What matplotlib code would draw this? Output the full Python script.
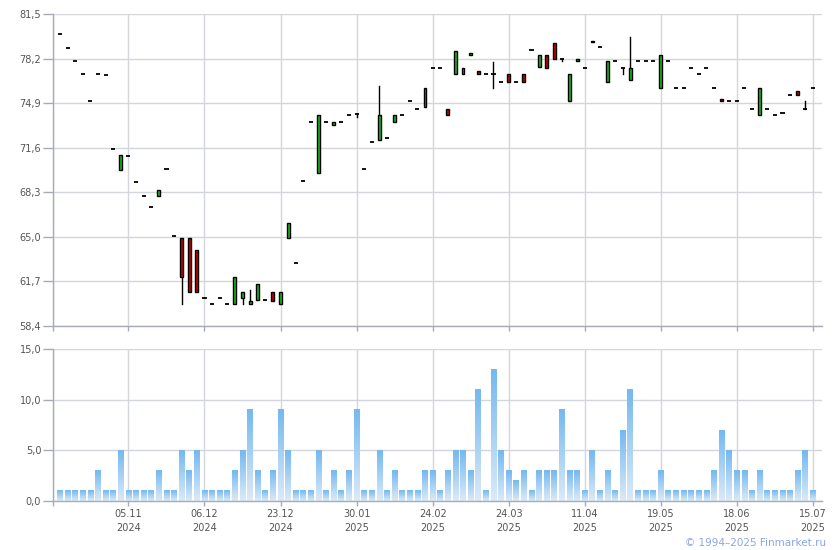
import matplotlib
matplotlib.use("Agg")
import matplotlib.pyplot as plt
import numpy as np
from matplotlib.patches import Rectangle
from matplotlib.ticker import FuncFormatter
from matplotlib.colors import LinearSegmentedColormap

# ---- data ----
opens = [80.0, 79.0, 78.0, 77.05, 75.05, 77.05, 76.95, 71.5, 69.95, 70.95,
         69.05, 68.0, 67.2, 68.0, 70.0, 65.05, 64.95, 64.95, 64.05, 60.5,
         60.0, 60.5, 60.0, 60.0, 60.5, 60.0, 60.3, 60.3, 60.95, 60.0,
         64.95, 63.1, 69.1, 73.5, 69.75, 73.5, 73.25, 73.5, 74.0, 74.1,
         70.0, 72.0, 72.2, 72.3, 73.5, 74.0, 75.05, 74.5, 74.6, 77.5,
         77.5, 74.5, 77.05, 77.05, 78.5, 77.25, 77.05, 77.05, 76.5, 77.05,
         76.5, 77.05, 78.8, 77.55, 78.5, 79.35, 78.15, 75.05, 78.0, 77.5,
         79.4, 79.05, 76.5, 78.0, 77.5, 76.6, 78.0, 78.0, 78.0, 76.0,
         78.0, 76.05, 76.0, 77.5, 77.05, 77.5, 76.0, 75.2, 75.05, 75.05,
         76.0, 74.5, 74.0, 74.5, 74.0, 74.2, 75.5, 75.8, 74.5, 76.0]
closes = [80.0, 79.0, 78.0, 77.05, 75.05, 77.05, 76.95, 71.5, 71.05, 70.95,
          69.05, 68.0, 67.2, 68.5, 70.0, 65.05, 62.0, 60.95, 60.95, 60.5,
          60.0, 60.5, 60.0, 62.0, 60.95, 60.25, 61.5, 60.3, 60.25, 60.95,
          66.0, 63.1, 69.1, 73.5, 74.0, 73.5, 73.5, 73.5, 74.0, 74.1,
          70.0, 72.0, 74.0, 72.3, 74.0, 74.0, 75.05, 74.5, 76.0, 77.5,
          77.5, 74.0, 78.75, 77.5, 78.6, 77.05, 77.05, 77.05, 76.5, 76.5,
          76.5, 76.5, 78.8, 78.45, 77.5, 78.2, 78.15, 77.05, 78.2, 77.5,
          79.5, 79.05, 78.0, 78.0, 77.5, 77.5, 78.0, 78.0, 78.0, 78.5,
          78.0, 76.05, 76.0, 77.5, 77.05, 77.5, 76.0, 75.05, 75.05, 75.05,
          76.0, 74.5, 76.0, 74.5, 74.0, 74.2, 75.5, 75.5, 74.5, 76.0]
highs = [80.0, 79.0, 78.0, 77.05, 75.05, 77.05, 76.95, 71.5, 71.05, 70.95,
         69.05, 68.0, 67.2, 68.5, 70.0, 65.05, 64.95, 64.95, 64.05, 60.5,
         60.0, 60.5, 60.0, 62.0, 60.95, 61.05, 61.5, 60.3, 60.95, 60.95,
         66.0, 63.1, 69.1, 73.5, 74.0, 73.5, 73.5, 73.5, 74.0, 74.1,
         70.0, 72.0, 76.2, 72.3, 74.0, 74.0, 75.05, 74.5, 76.0, 77.5,
         77.5, 74.5, 78.75, 77.5, 78.6, 77.25, 77.05, 77.95, 76.5, 77.05,
         76.5, 77.05, 78.8, 78.45, 78.5, 79.35, 78.15, 77.05, 78.2, 77.5,
         79.5, 79.05, 78.0, 78.0, 77.5, 79.8, 78.0, 78.0, 78.0, 78.5,
         78.0, 76.05, 76.0, 77.5, 77.05, 77.5, 76.0, 75.2, 75.05, 75.05,
         76.0, 74.5, 76.0, 74.5, 74.0, 74.2, 75.5, 75.8, 75.05, 76.0]
lows = [80.0, 79.0, 78.0, 77.05, 75.05, 77.05, 76.95, 71.5, 69.95, 70.95,
        69.05, 68.0, 67.2, 68.0, 70.0, 65.05, 60.05, 60.95, 60.95, 60.5,
        60.0, 60.5, 60.0, 60.0, 60.05, 60.0, 60.3, 60.3, 60.25, 60.0,
        64.95, 63.1, 69.1, 73.5, 69.75, 73.5, 73.25, 73.5, 74.0, 73.9,
        70.0, 72.0, 72.2, 72.3, 73.5, 74.0, 75.05, 74.5, 74.6, 77.5,
        77.5, 74.0, 77.05, 77.05, 78.5, 77.05, 77.05, 76.05, 76.5, 76.5,
        76.5, 76.5, 78.8, 77.55, 77.5, 78.2, 78.05, 75.05, 78.0, 77.5,
        79.4, 79.05, 76.5, 78.0, 77.05, 76.6, 78.0, 78.0, 78.0, 76.0,
        78.0, 76.05, 76.0, 77.5, 77.05, 77.5, 76.0, 75.05, 75.05, 75.05,
        76.0, 74.5, 74.0, 74.5, 74.0, 74.2, 75.5, 75.5, 74.5, 76.0]
volumes = [1, 1, 1, 1, 1, 3, 1, 1, 5, 1,
           1, 1, 1, 3, 1, 1, 5, 3, 5, 1,
           1, 1, 1, 3, 5, 9, 3, 1, 3, 9,
           5, 1, 1, 1, 5, 1, 3, 1, 3, 9,
           1, 1, 5, 1, 3, 1, 1, 1, 3, 3,
           1, 3, 5, 5, 3, 11, 1, 13, 5, 3,
           2, 3, 1, 3, 3, 3, 9, 3, 3, 1,
           5, 1, 3, 1, 7, 11, 1, 1, 1, 3,
           1, 1, 1, 1, 1, 1, 3, 7, 5, 3,
           3, 1, 3, 1, 1, 1, 1, 3, 5, 1]
date_labels = ["05.11\n2024", "06.12\n2024", "23.12\n2024", "30.01\n2025",
               "24.02\n2025", "24.03\n2025", "11.04\n2025", "19.05\n2025",
               "18.06\n2025", "15.07\n2025"]
date_pos = [9, 19, 29, 39, 49, 59, 69, 79, 89, 99]
price_ticks = [58.4, 61.7, 65.0, 68.3, 71.6, 74.9, 78.2, 81.5]
vol_ticks = [0, 5, 10, 15]

# ---- style ----
GRID = "#d3d6da"
SPINE = "#a8aab8"
LABEL = "#555555"
GREEN = "#1cbb1c"
RED = "#cc0000"
plt.rcParams['font.family'] = ['DejaVu Sans']

fig = plt.figure(figsize=(8.4, 5.5), dpi=100)
W, H = 840, 550
x0, x1 = 53, 822
ax = fig.add_axes([x0 / W, 1 - 326 / H, (x1 - x0) / W, 312 / H])
axv = fig.add_axes([x0 / W, 1 - 501 / H, (x1 - x0) / W, 152 / H])

xmin, xmax = -0.92, 100.2
fmt = FuncFormatter(lambda v, p: f"{v:.1f}".replace('.', ','))

for a in (ax, axv):
    a.set_xlim(xmin, xmax)
    for s in ("top", "right"):
        a.spines[s].set_visible(False)
    for s in ("left", "bottom"):
        a.spines[s].set_color(SPINE)
        a.spines[s].set_linewidth(1)
    a.set_xticks([xmin] + date_pos)
    a.xaxis.grid(True, color=GRID, lw=1)
    a.yaxis.grid(True, color=GRID, lw=1)
    a.set_axisbelow(True)
    a.tick_params(axis='y', length=7, width=1, color=SPINE, labelsize=7,
                  labelcolor=LABEL, pad=1.5)
    a.tick_params(axis='x', length=3.5, width=1, color=SPINE, labelsize=7,
                  labelcolor=LABEL, pad=2.5)
    a.yaxis.set_major_formatter(fmt)

ax.set_ylim(58.4, 81.5)
ax.set_yticks(price_ticks)
ax.set_xticklabels([""] * (len(date_pos) + 1))

axv.set_ylim(0, 15)
axv.set_yticks(vol_ticks)
axv.set_xticklabels([""] + date_labels, linespacing=1.45)

# ---- candles ----
bw = 0.38
dw = 0.27
for i, (o, h, l, c) in enumerate(zip(opens, highs, lows, closes)):
    top, bot = max(o, c), min(o, c)
    if h > top:
        ax.plot([i, i], [top, h], color='black', lw=1, zorder=3)
    if l < bot:
        ax.plot([i, i], [l, bot], color='black', lw=1, zorder=3)
    if o == c:
        ax.plot([i - dw, i + dw], [o, o], color='black', lw=1.3, zorder=4,
                solid_capstyle='butt')
    else:
        col = GREEN if c > o else RED
        ax.add_patch(Rectangle((i - bw / 2, bot), bw, top - bot, facecolor=col,
                               edgecolor='black', lw=1, zorder=4))

# ---- volume bars with vertical gradient ----
cmap = LinearSegmentedColormap.from_list("vg", ["#dbeaf8", "#74b9ef"])
grad = np.linspace(0, 1, 64).reshape(-1, 1)
vw = 0.76
for i, v in enumerate(volumes):
    axv.imshow(grad, cmap=cmap, origin='lower', aspect='auto',
               extent=[i - vw / 2, i + vw / 2, 0, v], zorder=2,
               interpolation='bilinear')
axv.set_xlim(xmin, xmax)
axv.set_ylim(0, 15)

fig.text(826 / W, 1 - 543 / H, "© 1994–2025 Finmarket.ru", color="#88a6e6",
         fontsize=7.5, ha='right', va='center')

fig.savefig("out.png", dpi=100)
